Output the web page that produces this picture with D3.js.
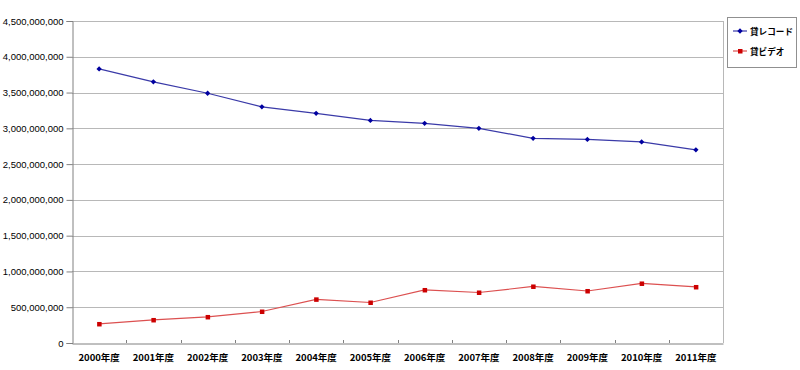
<!DOCTYPE html>
<html>
<head>
<meta charset="utf-8">
<script src="https://d3js.org/d3.v7.min.js"></script>
<style>
  body { margin: 0; background: #fff; }
</style>
</head>
<body>
<div id="chart"></div>
<script>
  // data
  var years = ["2000年度","2001年度","2002年度","2003年度","2004年度","2005年度",
               "2006年度","2007年度","2008年度","2009年度","2010年度","2011年度"];
  var records = [3830000000, 3650000000, 3490000000, 3300000000, 3210000000, 3110000000,
                 3070000000, 3000000000, 2860000000, 2845000000, 2810000000, 2700000000];
  var videos  = [266000000, 322000000, 364000000, 440000000, 610000000, 566000000,
                 741000000, 706000000, 790000000, 727000000, 832000000, 783000000];
  var seriesNames = ["貸レコード", "貸ビデオ"];
  var yTicks = [0, 500000000, 1000000000, 1500000000, 2000000000, 2500000000,
                3000000000, 3500000000, 4000000000, 4500000000];

  var width = 800, height = 370;
  var margin = {top: 21, left: 72, right: 77, bottom: 27};
  var latin = '"Liberation Sans", Arial, sans-serif';
  var jp = '"Noto Sans CJK JP", sans-serif';

  var svg = d3.select('#chart').append('svg')
    .attr('width', width).attr('height', height);

  var x = d3.scaleBand()
    .domain(years)
    .range([margin.left, width - margin.right]);

  var y = d3.scaleLinear()
    .domain([0, 4500000000])
    .range([height - margin.bottom, margin.top]);

  // gridlines
  svg.append('g').selectAll('line')
    .data(yTicks.slice(1))
    .enter().append('line')
    .attr('x1', margin.left).attr('x2', width - margin.right)
    .attr('y1', d => Math.round(y(d)) + 0.5).attr('y2', d => Math.round(y(d)) + 0.5)
    .attr('stroke', '#b8b8b8');

  // right border
  svg.append('line')
    .attr('x1', width - margin.right + 0.5).attr('x2', width - margin.right + 0.5)
    .attr('y1', margin.top).attr('y2', height - margin.bottom)
    .attr('stroke', '#b8b8b8');

  // y axis
  var yAxis = d3.axisLeft(y)
    .tickValues(yTicks)
    .tickSize(6)
    .tickPadding(3)
    .tickFormat(d3.format(','));
  var gy = svg.append('g')
    .attr('transform', 'translate(' + (margin.left + 0.5) + ',0)')
    .call(yAxis);
  gy.select('.domain').attr('stroke', '#808080');
  gy.selectAll('.tick line').attr('stroke', '#808080');
  gy.selectAll('text')
    .attr('font-family', latin)
    .attr('font-size', 9.5)
    .attr('fill', '#000');

  // x axis
  var xAxis = d3.axisBottom(x).tickSize(0).tickPadding(11);
  var gx = svg.append('g')
    .attr('transform', 'translate(0,' + (Math.round(y(0)) + 0.5) + ')')
    .call(xAxis);
  gx.select('.domain').attr('stroke', '#808080');
  gx.selectAll('text')
    .attr('font-family', jp)
    .attr('font-size', 9.5)
    .attr('font-weight', 'bold')
    .attr('fill', '#000');

  // small ticks between categories
  svg.append('g').selectAll('line')
    .data(years.slice(1))
    .enter().append('line')
    .attr('x1', d => Math.round(x(d)) + 0.5).attr('x2', d => Math.round(x(d)) + 0.5)
    .attr('y1', Math.round(y(0)) - 3).attr('y2', Math.round(y(0)))
    .attr('stroke', '#808080');

  var line = d3.line()
    .x((d, i) => x(years[i]) + x.bandwidth() / 2)
    .y(d => y(d));

  var diamond = d3.symbol().type(d3.symbolDiamond2).size(18);

  // series 1: records
  svg.append('path')
    .datum(records)
    .attr('d', line)
    .attr('fill', 'none')
    .attr('stroke', '#3a3aa8')
    .attr('stroke-width', 1.2);
  svg.append('g').selectAll('path')
    .data(records)
    .enter().append('path')
    .attr('d', diamond)
    .attr('transform', (d, i) => 'translate(' + (x(years[i]) + x.bandwidth() / 2) + ',' + y(d) + ')')
    .attr('fill', '#0000a0');

  // series 2: videos
  svg.append('path')
    .datum(videos)
    .attr('d', line)
    .attr('fill', 'none')
    .attr('stroke', '#dc5050')
    .attr('stroke-width', 1.2);
  svg.append('g').selectAll('rect')
    .data(videos)
    .enter().append('rect')
    .attr('x', (d, i) => x(years[i]) + x.bandwidth() / 2 - 2)
    .attr('y', d => y(d) - 2)
    .attr('width', 4.5).attr('height', 4.5)
    .attr('fill', '#cc0000');

  // legend
  var legend = svg.append('g');
  legend.append('rect')
    .attr('x', 727.5).attr('y', 17.5)
    .attr('width', 69).attr('height', 50)
    .attr('fill', '#fff').attr('stroke', '#909090');

  var legendColors = [['#3a3aa8', '#0000a0'], ['#dc5050', '#cc0000']];
  seriesNames.forEach(function (name, i) {
    var ly = 31 + i * 20;
    legend.append('line')
      .attr('x1', 733).attr('x2', 747)
      .attr('y1', ly).attr('y2', ly)
      .attr('stroke', legendColors[i][0]).attr('stroke-width', 1.2);
    if (i === 0) {
      legend.append('path')
        .attr('d', diamond)
        .attr('transform', 'translate(740,' + ly + ')')
        .attr('fill', legendColors[i][1]);
    } else {
      legend.append('rect')
        .attr('x', 738).attr('y', ly - 2)
        .attr('width', 4.5).attr('height', 4.5)
        .attr('fill', legendColors[i][1]);
    }
    legend.append('text')
      .attr('x', 750).attr('y', ly + 3.5)
      .attr('font-size', 8.6).attr('font-weight', 'bold')
      .attr('font-family', jp)
      .text(name);
  });
</script>
</body>
</html>
